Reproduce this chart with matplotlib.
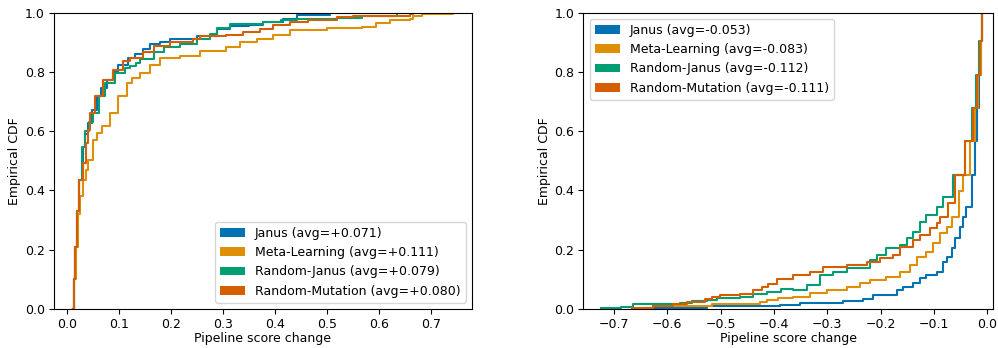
import matplotlib
matplotlib.use('Agg')
import matplotlib.pyplot as plt
from matplotlib.patches import Patch

# colours (seaborn colorblind)
colors = ['#0173b2', '#de8f05', '#029e73', '#d55e00']

# ---- left panel: positive score changes (x, cdf)
left_labels = ['Janus (avg=+0.071)', 'Meta-Learning (avg=+0.111)',
               'Random-Janus (avg=+0.079)', 'Random-Mutation (avg=+0.080)']

janus_pos_x = [0.010, 0.012, 0.015, 0.019, 0.0225, 0.0296, 0.034, 0.040, 0.047, 0.0565, 0.065,
               0.0757, 0.087, 0.098, 0.117, 0.130, 0.146, 0.159, 0.178, 0.197, 0.249, 0.287,
               0.313, 0.350, 0.377, 0.415, 0.441, 0.505]
janus_pos_y = [0.0, 0.10, 0.21, 0.33, 0.435, 0.548, 0.59, 0.627, 0.67, 0.718, 0.745,
               0.774, 0.80, 0.825, 0.847, 0.86, 0.878, 0.895, 0.90, 0.912, 0.923, 0.946,
               0.955, 0.96, 0.968, 0.98, 0.993, 1.0]

meta_pos_x = [0.010, 0.013, 0.0167, 0.021, 0.025, 0.0296, 0.035, 0.040, 0.050, 0.058, 0.066,
              0.082, 0.098, 0.114, 0.125, 0.140, 0.159, 0.178, 0.217, 0.255, 0.306, 0.332,
              0.364, 0.396, 0.428, 0.499, 0.566, 0.594, 0.621, 0.659, 0.665, 0.682, 0.742]
meta_pos_y = [0.0, 0.10, 0.209, 0.322, 0.38, 0.435, 0.47, 0.503, 0.571, 0.595, 0.616,
              0.661, 0.718, 0.763, 0.78, 0.797, 0.822, 0.846, 0.855, 0.872, 0.883, 0.90,
              0.912, 0.925, 0.94, 0.947, 0.953, 0.964, 0.975, 0.98, 0.99, 0.995, 1.0]

rjanus_pos_x = [0.010, 0.012, 0.015, 0.019, 0.023, 0.028, 0.034, 0.042, 0.050, 0.060, 0.0725,
                0.092, 0.110, 0.120, 0.133, 0.140, 0.166, 0.185, 0.217, 0.249, 0.275, 0.287,
                0.313, 0.377, 0.410, 0.441, 0.519, 0.567, 0.633]
rjanus_pos_y = [0.0, 0.10, 0.21, 0.33, 0.435, 0.548, 0.60, 0.63, 0.661, 0.718, 0.763,
                0.797, 0.815, 0.821, 0.831, 0.844, 0.867, 0.884, 0.895, 0.912, 0.929, 0.948,
                0.963, 0.968, 0.975, 0.98, 0.982, 0.988, 1.0]

rmut_pos_x = [0.010, 0.012, 0.015, 0.018, 0.022, 0.030, 0.036, 0.040, 0.044, 0.053, 0.069,
              0.088, 0.108, 0.120, 0.146, 0.166, 0.197, 0.242, 0.255, 0.306, 0.338, 0.371,
              0.396, 0.428, 0.457, 0.463, 0.518, 0.550, 0.659, 0.665]
rmut_pos_y = [0.0, 0.10, 0.21, 0.33, 0.435, 0.492, 0.56, 0.604, 0.661, 0.718, 0.774,
              0.808, 0.836, 0.846, 0.867, 0.889, 0.90, 0.912, 0.92, 0.925, 0.934, 0.946,
              0.957, 0.968, 0.97, 0.976, 0.985, 0.99, 0.995, 1.0]

# ---- right panel: negative score changes
right_labels = ['Janus (avg=-0.053)', 'Meta-Learning (avg=-0.083)',
                'Random-Janus (avg=-0.112)', 'Random-Mutation (avg=-0.111)']

janus_neg_x = [-0.642, -0.526, -0.389, -0.351, -0.270, -0.2325, -0.214, -0.170, -0.1575, -0.139,
               -0.126, -0.114, -0.095, -0.0825, -0.076, -0.0668, -0.0606, -0.0512, -0.045,
               -0.0405, -0.0293, -0.023, -0.0187, -0.015, -0.0124, -0.0094]
janus_neg_y = [0.004, 0.010, 0.0135, 0.021, 0.027, 0.034, 0.047, 0.064, 0.075, 0.087,
               0.104, 0.115, 0.126, 0.160, 0.176, 0.205, 0.239, 0.278, 0.310, 0.345,
               0.453, 0.566, 0.678, 0.791, 0.903, 1.0]

meta_neg_x = [-0.655, -0.626, -0.517, -0.426, -0.414, -0.392, -0.364, -0.3325, -0.301, -0.264,
              -0.239, -0.220, -0.189, -0.164, -0.145, -0.132, -0.114, -0.101, -0.0888, -0.076,
              -0.0668, -0.0525, -0.045, -0.0324, -0.023, -0.0169, -0.0124, -0.0094]
meta_neg_y = [0.004, 0.010, 0.016, 0.024, 0.030, 0.038, 0.042, 0.053, 0.064, 0.075,
              0.087, 0.098, 0.109, 0.126, 0.148, 0.176, 0.193, 0.222, 0.255, 0.278,
              0.312, 0.397, 0.453, 0.566, 0.678, 0.791, 0.903, 1.0]

rjanus_neg_x = [-0.724, -0.687, -0.665, -0.576, -0.554, -0.526, -0.507, -0.464, -0.439, -0.414,
                -0.386, -0.364, -0.339, -0.314, -0.289, -0.264, -0.220, -0.207, -0.189, -0.164,
                -0.151, -0.139, -0.126, -0.114, -0.095, -0.0825, -0.0637, -0.0418, -0.0293,
                -0.0212, -0.015, -0.0106]
rjanus_neg_y = [0.0034, 0.008, 0.016, 0.021, 0.026, 0.030, 0.036, 0.042, 0.050, 0.056,
                0.0675, 0.064, 0.081, 0.115, 0.126, 0.137, 0.165, 0.182, 0.205, 0.216,
                0.239, 0.261, 0.295, 0.317, 0.345, 0.379, 0.453, 0.566, 0.678,
                0.791, 0.903, 1.0]

rmut_neg_x = [-0.667, -0.626, -0.589, -0.564, -0.529, -0.517, -0.501, -0.464, -0.439, -0.423,
              -0.411, -0.395, -0.364, -0.3325, -0.3075, -0.264, -0.226, -0.201, -0.176, -0.164,
              -0.139, -0.126, -0.1075, -0.095, -0.0888, -0.073, -0.0606, -0.0418, -0.026,
              -0.019, -0.014, -0.0098]
rmut_neg_y = [0.004, 0.010, 0.016, 0.022, 0.033, 0.040, 0.047, 0.052, 0.064, 0.074,
              0.084, 0.101, 0.115, 0.126, 0.143, 0.148, 0.160, 0.171, 0.182, 0.210,
              0.233, 0.250, 0.272, 0.289, 0.312, 0.357, 0.453, 0.566, 0.678,
              0.791, 0.903, 1.0]

left_series = [(janus_pos_x, janus_pos_y), (meta_pos_x, meta_pos_y),
               (rjanus_pos_x, rjanus_pos_y), (rmut_pos_x, rmut_pos_y)]
right_series = [(janus_neg_x, janus_neg_y), (meta_neg_x, meta_neg_y),
                (rjanus_neg_x, rjanus_neg_y), (rmut_neg_x, rmut_neg_y)]

fs = 9
fig = plt.figure(figsize=(9.98, 3.48), dpi=100)
ax1 = fig.add_axes([0.0541, 0.1121, 0.4188, 0.8514])
ax2 = fig.add_axes([0.5845, 0.1121, 0.4108, 0.8514])

for (xs, ys), c in zip(left_series, colors):
    ax1.step(xs, ys, where='post', color=c, linewidth=1.5)
for (xs, ys), c in zip(right_series, colors):
    ax2.step(xs, ys, where='post', color=c, linewidth=1.5)

ax1.set_xlim(-0.0256, 0.778)
ax2.set_xlim(-0.7575, 0.0113)
for ax in (ax1, ax2):
    ax.set_ylim(0, 1)
    ax.set_xlabel('Pipeline score change', fontsize=fs, labelpad=0.5)
    ax.set_ylabel('Empirical CDF', fontsize=fs, labelpad=2.5)
    ax.tick_params(labelsize=fs, pad=3)

ax1.set_xticks([0.0, 0.1, 0.2, 0.3, 0.4, 0.5, 0.6, 0.7])
ax2.set_xticks([-0.7, -0.6, -0.5, -0.4, -0.3, -0.2, -0.1, 0.0])

h1 = [Patch(facecolor=c, label=l) for c, l in zip(colors, left_labels)]
h2 = [Patch(facecolor=c, label=l) for c, l in zip(colors, right_labels)]
ax1.legend(handles=h1, loc='lower right', fontsize=fs)
ax2.legend(handles=h2, loc='upper left', fontsize=fs)

fig.savefig('out.png', dpi=100)
